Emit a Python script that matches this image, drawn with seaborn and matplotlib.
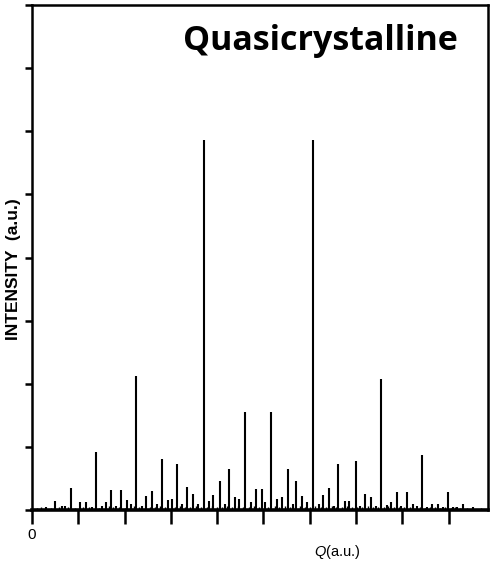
import matplotlib
matplotlib.use("Agg")
import matplotlib.pyplot as plt
import seaborn as sns

# main peaks: position in Q (a.u.) and intensity (a.u.)
peak_q = [0.30, 0.50, 0.65, 0.71, 0.84, 1.04, 1.17, 1.30, 1.39, 1.52,
          1.60, 1.71, 1.82, 1.93, 2.06, 2.14, 2.25, 2.38, 2.47, 2.60,
          2.71, 2.81, 2.94, 3.03, 3.14, 3.25, 3.35, 3.48, 3.59, 3.72,
          3.83, 3.92, 4.05, 4.16, 4.26, 4.39, 4.48, 4.61, 4.74, 4.83,
          4.96, 5.04, 5.17, 5.30, 5.39, 5.52, 5.63, 5.71, 5.84, 5.95,
          6.06, 6.19, 6.28, 6.41, 6.52, 6.62, 6.75, 6.84, 6.99, 7.08,
          7.19, 7.32, 7.42, 7.53, 7.66, 7.75, 7.88, 7.97, 8.10, 8.23,
          8.31, 8.42, 8.53, 8.64, 8.77, 8.87, 8.98, 9.09, 9.18, 9.31,
          9.52]
peak_i = [0.05, 0.14, 0.06, 0.06, 0.35, 0.13, 0.13, 0.05, 0.92, 0.06,
          0.12, 0.31, 0.06, 0.31, 0.16, 0.10, 2.12, 0.06, 0.22, 0.30,
          0.10, 0.80, 0.16, 0.17, 0.73, 0.10, 0.36, 0.26, 0.10, 5.86,
          0.14, 0.24, 0.46, 0.10, 0.65, 0.20, 0.17, 1.55, 0.12, 0.33,
          0.33, 0.13, 1.55, 0.17, 0.20, 0.65, 0.10, 0.46, 0.22, 0.12,
          5.86, 0.10, 0.24, 0.35, 0.06, 0.73, 0.14, 0.14, 0.78, 0.06,
          0.26, 0.20, 0.07, 2.07, 0.08, 0.13, 0.28, 0.06, 0.28, 0.09,
          0.06, 0.87, 0.05, 0.09, 0.09, 0.04, 0.28, 0.04, 0.04, 0.09,
          0.04]

# weak background reflections along the baseline
minor_q = [0.10, 0.20, 0.40, 0.58, 0.78, 0.92, 1.10, 1.24, 1.45, 1.66,
           1.76, 1.88, 2.00, 2.20, 2.32, 2.54, 2.66, 2.76, 2.88, 3.08,
           3.20, 3.30, 3.42, 3.54, 3.66, 3.78, 3.88, 4.00, 4.10, 4.21,
           4.32, 4.44, 4.55, 4.68, 4.79, 4.90, 5.10, 5.24, 5.34, 5.46,
           5.58, 5.67, 5.78, 5.90, 6.00, 6.12, 6.24, 6.35, 6.47, 6.57,
           6.70, 6.80, 6.92, 7.03, 7.13, 7.26, 7.37, 7.48, 7.60, 7.70,
           7.82, 7.92, 8.04, 8.16, 8.37, 8.48, 8.59, 8.70, 8.82, 8.92,
           9.04, 9.13, 9.25, 9.40, 9.60, 9.70]
minor_i = [0.03, 0.04, 0.03, 0.05, 0.04, 0.03, 0.05, 0.04, 0.03, 0.06,
           0.04, 0.05, 0.03, 0.06, 0.04, 0.05, 0.04, 0.06, 0.05, 0.04,
           0.06, 0.04, 0.05, 0.06, 0.04, 0.05, 0.06, 0.04, 0.05, 0.06,
           0.04, 0.06, 0.05, 0.04, 0.06, 0.05, 0.04, 0.06, 0.05, 0.06,
           0.04, 0.05, 0.06, 0.04, 0.05, 0.06, 0.04, 0.05, 0.06, 0.04,
           0.05, 0.06, 0.04, 0.05, 0.04, 0.06, 0.05, 0.04, 0.05, 0.06,
           0.04, 0.05, 0.04, 0.05, 0.04, 0.03, 0.04, 0.05, 0.03, 0.04,
           0.03, 0.04, 0.03, 0.03, 0.02, 0.03]

x_ticks = [0, 1, 2, 3, 4, 5, 6, 7, 8, 9]
x_tick_labels = ["0", "", "", "", "", "", "", "", "", ""]
y_ticks = [0, 1, 2, 3, 4, 5, 6, 7, 8]

sns.set_theme(style="ticks")
plt.rcParams["font.family"] = ["Liberation Sans", "DejaVu Sans"]
plt.rcParams["mathtext.fontset"] = "custom"
plt.rcParams["mathtext.it"] = "Liberation Sans:italic"
plt.rcParams["text.color"] = "black"
plt.rcParams["axes.labelcolor"] = "black"
plt.rcParams["xtick.color"] = "black"
plt.rcParams["ytick.color"] = "black"

fig = plt.figure(figsize=(4.9, 5.66), dpi=100)
ax = fig.add_axes([0.0653, 0.099, 0.9307, 0.892])

ax.vlines(minor_q, 0, minor_i, color="black", linewidth=1.0)
ax.vlines(peak_q, 0, peak_i, color="black", linewidth=1.5)

ax.set_xlim(0, 9.85)
ax.set_ylim(0, 7.96)
ax.set_xticks(x_ticks)
ax.set_xticklabels(x_tick_labels, fontsize=11)
ax.set_yticks(y_ticks)
ax.set_yticklabels([])
ax.tick_params(axis="x", direction="out", length=10, width=1.8, pad=3)
ax.tick_params(axis="y", direction="out", length=5, width=1.8)

for side in ["left", "bottom", "top", "right"]:
    ax.spines[side].set_linewidth(1.8)
    ax.spines[side].set_color("black")
ax.spines["bottom"].set_linewidth(2.6)

ax.set_xlabel(r"$\mathit{Q}$(a.u.)", fontsize=10.5)
ax.xaxis.set_label_coords(0.67, -0.065)
ax.set_ylabel("INTENSITY  (a.u.)", fontsize=12.5, fontweight="bold")
ax.yaxis.set_label_coords(-0.025, 0.477)

ax.text(0.934, 0.911, "Quasicrystalline", transform=ax.transAxes,
        ha="right", va="baseline", fontsize=24.5, fontweight="bold",
        family=["Open Sans", "DejaVu Sans"])

fig.savefig("out.png", dpi=100)
plt.close(fig)
